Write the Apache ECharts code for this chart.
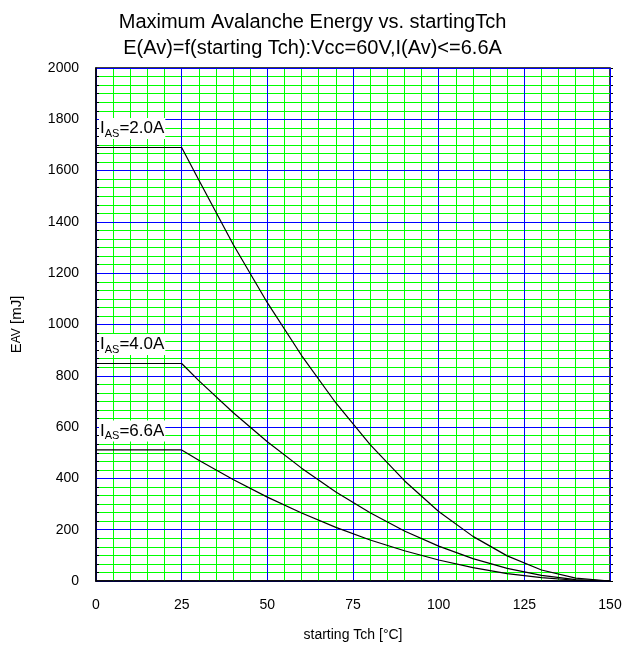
<!DOCTYPE html>
<html lang="en">
<head>
    <meta charset="UTF-8">
    <title>Maximum Avalanche Energy</title>
    <script src="https://cdn.jsdelivr.net/npm/echarts@6/dist/echarts.min.js"></script>
    <style>
        body { margin: 0; background: #fff; }
        #chart { width: 625px; height: 647px; }
    </style>
</head>
<body>
<div id="chart"></div>
<script>
    // starting Tch [°C]
    var temps = [0, 25, 30, 40, 50, 60, 70, 80, 90, 100, 110, 120, 130, 140, 150];
    // E(AV) [mJ] for each I(AS)
    var eAs20 = [1690, 1690, 1563, 1313, 1085, 879, 694, 532, 391, 271, 174, 98, 43, 11, 0];
    var eAs40 = [848, 848, 781, 657, 543, 440, 347, 266, 195, 136, 87, 49, 22, 5, 0];
    var eAs66 = [511, 511, 471, 396, 327, 265, 209, 160, 118, 82, 52, 29, 13, 3, 0];
    var curveNames = ['2.0A', '4.0A', '6.6A'];
    var xTicks = [0, 25, 50, 75, 100, 125, 150];
    var yTicks = [0, 200, 400, 600, 800, 1000, 1200, 1400, 1600, 1800, 2000];

    var font = "'Liberation Sans', Arial, sans-serif";
    var chart = echarts.init(document.getElementById('chart'));

    function pairs(vals) {
        return temps.map(function (t, i) { return [t, vals[i]]; });
    }

    // label "I_AS=x.xA" sitting just above the flat part of each curve
    function curve(vals, name) {
        return {
            type: 'line',
            name: name,
            xAxisIndex: 0,
            yAxisIndex: 0,
            data: pairs(vals),
            symbol: 'none',
            lineStyle: { color: '#000', width: 1.2 },
            z: 5,
            markPoint: {
                symbol: 'circle',
                symbolSize: 0,
                silent: true,
                data: [{ coord: [0, vals[0]] }],
                label: {
                    show: true,
                    position: 'right',
                    distance: 3,
                    offset: [0, -19],
                    backgroundColor: '#fff',
                    padding: [0, 1, 0, 1],
                    formatter: '{i|I}{s|AS}{v|=' + name + '}',
                    rich: {
                        i: { fontFamily: font, fontSize: 17, color: '#000', lineHeight: 20 },
                        s: { fontFamily: font, fontSize: 11, color: '#000', padding: [10, 0, 0, 0] },
                        v: { fontFamily: font, fontSize: 17, color: '#000', lineHeight: 20 }
                    }
                }
            }
        };
    }

    var plain = function (v) { return String(v); };
    var xMin = xTicks[0], xMax = xTicks[xTicks.length - 1];
    var yMin = yTicks[0], yMax = yTicks[yTicks.length - 1];

    // small black ticks, six per 200 mJ, on the left and right frame
    function tickAxis(side) {
        return {
            type: 'value',
            position: side,
            min: yMin, max: yMax, interval: 200 / 6,
            axisLine: { show: false },
            axisTick: { show: true, inside: side === 'left', length: 3, lineStyle: { color: '#000' } },
            axisLabel: { show: false },
            splitLine: { show: side === 'left', lineStyle: { color: '#00ff00', width: 1 } },
            z: 1
        };
    }

    var option = {
        animation: false,
        title: {
            text: 'Maximum Avalanche Energy vs. startingTch\nE(Av)=f(starting Tch):Vcc=60V,I(Av)<=6.6A',
            left: 'center',
            top: 4,
            textStyle: { fontFamily: font, fontSize: 20, fontWeight: 'normal', color: '#000', lineHeight: 26 }
        },
        grid: {
            left: 96, right: 15, top: 68, bottom: 66,
            show: true, borderColor: '#000', borderWidth: 1.5, backgroundColor: '#fff'
        },
        xAxis: [{
            type: 'value',
            min: xMin, max: xMax, interval: 25,
            name: 'starting Tch [°C]',
            nameLocation: 'middle',
            nameGap: 47,
            nameTextStyle: { fontFamily: font, fontSize: 14, color: '#000' },
            axisLine: { show: true, lineStyle: { color: '#000', width: 1.5 } },
            axisTick: { show: false },
            axisLabel: { fontFamily: font, fontSize: 14, color: '#000', margin: 17, formatter: plain },
            splitLine: { show: true, lineStyle: { color: '#0000ff', width: 1 } },
            z: 3
        }, {
            // fine green grid every 5 °C
            type: 'value',
            position: 'top',
            min: xMin, max: xMax, interval: 5,
            axisLine: { show: false },
            axisTick: { show: false },
            axisLabel: { show: false },
            splitLine: { show: true, lineStyle: { color: '#00ff00', width: 1 } },
            z: 1
        }],
        yAxis: [{
            type: 'value',
            min: yMin, max: yMax, interval: 200,
            name: '{e|E}{s|AV}{n| [mJ]}',
            nameLocation: 'middle',
            nameGap: 72,
            nameRotate: 90,
            nameTextStyle: {
                fontFamily: font, fontSize: 15, color: '#000',
                rich: {
                    e: { fontFamily: font, fontSize: 15, color: '#000' },
                    s: { fontFamily: font, fontSize: 12, color: '#000' },
                    n: { fontFamily: font, fontSize: 15, color: '#000' }
                }
            },
            axisLine: { show: true, lineStyle: { color: '#000', width: 1.5 } },
            axisTick: { show: false },
            axisLabel: { fontFamily: font, fontSize: 14, color: '#000', margin: 17, formatter: plain },
            splitLine: { show: true, lineStyle: { color: '#0000ff', width: 1 } },
            z: 3
        }, tickAxis('left'), tickAxis('right')],
        series: [
            curve(eAs20, curveNames[0]),
            curve(eAs40, curveNames[1]),
            curve(eAs66, curveNames[2])
        ]
    };
    chart.setOption(option);
</script>
</body>
</html>
